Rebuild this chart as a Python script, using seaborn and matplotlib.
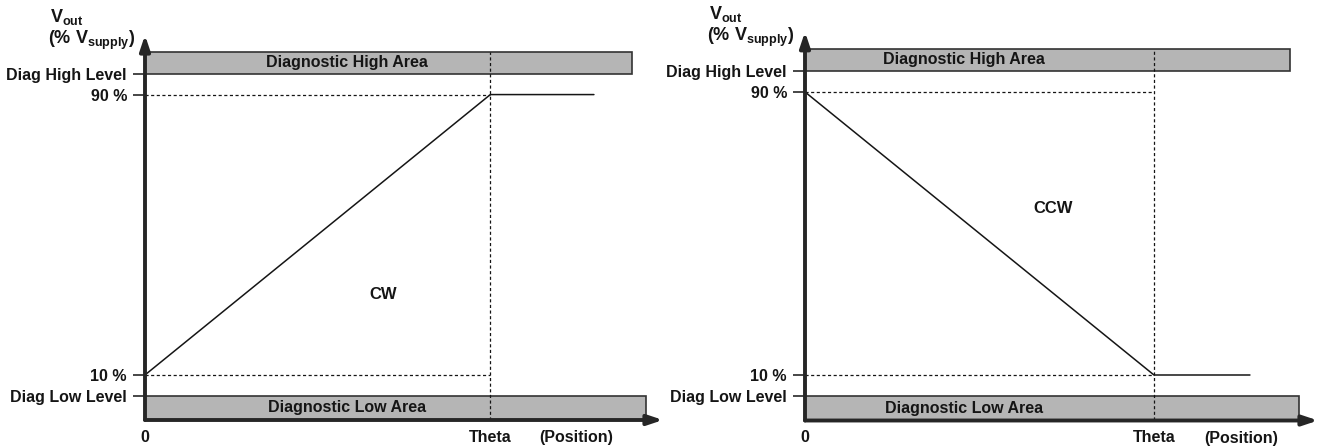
import matplotlib
matplotlib.use("Agg")
import matplotlib.pyplot as plt
import numpy as np
import pandas as pd
import seaborn as sns

sns.set_style("white")
plt.rcParams['font.family'] = ['Liberation Sans', 'DejaVu Sans']
plt.rcParams['font.weight'] = 'bold'
plt.rcParams['mathtext.fontset'] = 'custom'
plt.rcParams['mathtext.rm'] = 'Liberation Sans:bold'
plt.rcParams['mathtext.it'] = 'Liberation Sans:bold'
plt.rcParams['mathtext.bf'] = 'Liberation Sans:bold'

# output levels in % of supply
vout_low = 10
vout_high = 90
diag_low = 4
diag_high = 96
band_top = 102.2
axis_bottom = -2.86
axis_top = 107

ytick_vals = [diag_low, vout_low, vout_high, diag_high]
ytick_labels = ["Diag Low Level", "10 %", "90 %", "Diag High Level"]

# CW: ramps up to theta then flat ; CCW: ramps down then flat
cw_pos = [0, 1.0, 1.30]
cw_vout = [10, 90, 90]
ccw_pos = [0, 1.0, 1.275]
ccw_vout = [90, 10, 10]

panels = [
    dict(pos=cw_pos, vout=cw_vout, name="CW", name_xy=(0.69, 33),
         xmax=1.50, high_end=1.41, low_end=1.45, text_x=0.585,
         rect=[145 / 1322, 1 - 420 / 448, 518 / 1322, 385 / 448]),
    dict(pos=ccw_pos, vout=ccw_vout, name="CCW", name_xy=(0.71, 57),
         xmax=1.47, high_end=1.39, low_end=1.415, text_x=0.455,
         rect=[805 / 1322, 1 - 420.5 / 448, 513 / 1322, 388.7 / 448]),
]

ink = "#151515"
band_col = "#b5b5b5"
fs = 11.5

fig = plt.figure(figsize=(13.22, 4.48), dpi=100)

for p in panels:
    ax = fig.add_axes(p["rect"])
    ax.set_xlim(0, p["xmax"])
    ax.set_ylim(axis_bottom, axis_top)
    for s in ax.spines.values():
        s.set_visible(False)

    # diagnostic bands
    ax.barh(y=(diag_high + band_top) / 2, width=p["high_end"], left=0,
            height=band_top - diag_high, color=band_col, edgecolor="#333333",
            linewidth=1.2, zorder=1)
    ax.barh(y=(axis_bottom + diag_low) / 2, width=p["low_end"], left=0,
            height=diag_low - axis_bottom, color=band_col, edgecolor="#333333",
            linewidth=1.2, zorder=1)
    ax.text(p["text_x"], (diag_high + band_top) / 2, "Diagnostic High Area",
            ha="center", va="center", fontsize=fs, fontweight="bold",
            color=ink, zorder=5)
    ax.text(p["text_x"], (axis_bottom + diag_low) / 2, "Diagnostic Low Area",
            ha="center", va="center", fontsize=fs, fontweight="bold",
            color=ink, zorder=5)

    # dotted guides
    ax.plot([0, 1], [90, 90], ls=(0, (2.5, 2)), lw=0.9, color=ink, zorder=2)
    ax.plot([0, 1], [10, 10], ls=(0, (2.5, 2)), lw=0.9, color=ink, zorder=2)
    ax.plot([1, 1], [axis_bottom, band_top], ls=(0, (2.5, 2)), lw=0.9,
            color=ink, zorder=3)

    df = pd.DataFrame({"pos": p["pos"], "vout": p["vout"]})
    sns.lineplot(data=df, x="pos", y="vout", ax=ax, color=ink, lw=1.1,
                 zorder=4)

    # axes with arrows
    ax.annotate("", xy=(0, axis_top), xytext=(0, axis_bottom),
                arrowprops=dict(arrowstyle="-|>,head_length=0.9,head_width=0.3",
                                lw=2.8, color="#262626", shrinkA=0, shrinkB=0),
                annotation_clip=False, zorder=6)
    ax.annotate("", xy=(p["xmax"], axis_bottom), xytext=(0, axis_bottom),
                arrowprops=dict(arrowstyle="-|>,head_length=0.9,head_width=0.3",
                                lw=2.8, color="#262626", shrinkA=0, shrinkB=0),
                annotation_clip=False, zorder=6)

    ax.set_yticks(ytick_vals)
    ax.set_yticklabels(ytick_labels, fontsize=fs, fontweight="bold", color=ink)
    ax.tick_params(axis="y", length=9, width=1.1, color=ink, pad=4, left=True)
    ax.set_xticks([0, 1])
    ax.set_xticklabels(["0", "Theta"], fontsize=fs, fontweight="bold",
                       color=ink)
    ax.tick_params(axis="x", length=0, pad=7)
    ax.set_xlabel("")
    ax.set_ylabel("")
    ax.text(1.25, axis_bottom - 5.0, "(Position)", ha="center", va="center",
            fontsize=fs, fontweight="bold", color=ink, clip_on=False)

    ax.text(p["name_xy"][0], p["name_xy"][1], p["name"], ha="center",
            va="center", fontsize=fs + 0.5, fontweight="bold", color=ink)

    # y axis title
    ax.text(-0.275, axis_top + 3.7, r"$V_{out}$", ha="left", va="baseline",
            fontsize=13, color=ink, clip_on=False)
    ax.text(-0.28, axis_top - 2.6, r"(% $V_{supply}$)", ha="left",
            va="baseline", fontsize=13, color=ink, clip_on=False)

fig.savefig("out.png", dpi=100)
